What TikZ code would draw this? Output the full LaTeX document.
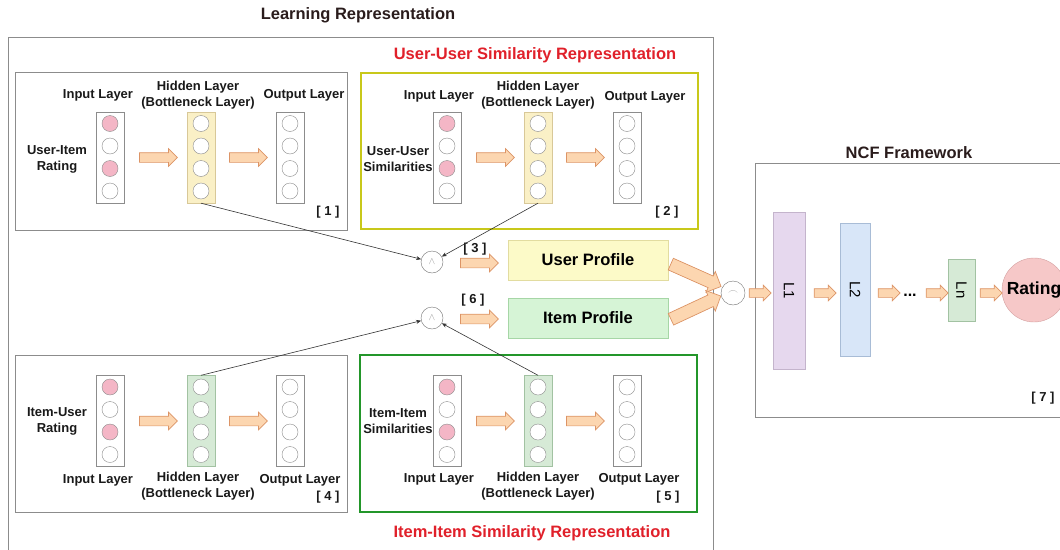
\documentclass[tikz,border=0pt]{standalone}
\usepackage{fontspec}
\setmainfont{Liberation Sans}
\usetikzlibrary{shapes.arrows,arrows.meta}

\definecolor{boxgray}{HTML}{8C8C8C}
\definecolor{olivebox}{HTML}{C8C81A}
\definecolor{greenbox}{HTML}{23962A}
\definecolor{redtitle}{HTML}{E0202A}
\definecolor{darktitle}{HTML}{2A1C1C}
\definecolor{pinkn}{HTML}{F4B6C6}
\definecolor{hidyel}{HTML}{FAF0C6}
\definecolor{hidyeldraw}{HTML}{D8C898}
\definecolor{hidgrn}{HTML}{D6EAD6}
\definecolor{hidgrndraw}{HTML}{A2C2A2}
\definecolor{arrowfill}{HTML}{FCD6B0}
\definecolor{arrowline}{HTML}{DC9466}
\definecolor{userfill}{HTML}{FCFAC8}
\definecolor{userdraw}{HTML}{E2DCA0}
\definecolor{itemfill}{HTML}{D6F4D6}
\definecolor{itemdraw}{HTML}{A6D6A6}
\definecolor{lonefill}{HTML}{E6D8EE}
\definecolor{lonedraw}{HTML}{C4B4CC}
\definecolor{ltwofill}{HTML}{D8E6F8}
\definecolor{ltwodraw}{HTML}{A8BCD6}
\definecolor{ratefill}{HTML}{F6C8C8}
\definecolor{ratedraw}{HTML}{D4A0A0}

\tikzset{
  txt/.style={font=\bfseries\fontsize{13}{16}\selectfont, text=black!90, align=center, inner sep=0pt},
  head/.style={font=\bfseries\fontsize{16.5}{20}\selectfont, inner sep=0pt},
  panel/.style={draw=boxgray, line width=1pt},
  layercol/.style={draw=boxgray, fill=white, minimum width=28pt, minimum height=91pt, inner sep=0pt},
  neuron/.style={circle, draw=black!45, fill=white, minimum size=16pt, inner sep=0pt},
  fatarrow/.style={single arrow, draw=arrowline, line width=0.7pt, fill=arrowfill, minimum height=38pt, minimum width=17pt, single arrow head extend=4pt, inner sep=4.5pt},
  bigarrow/.style={fatarrow, minimum height=55pt, minimum width=22pt, single arrow head extend=5pt, inner sep=6pt},
  ncfarrow/.style={fatarrow, minimum height=22pt, minimum width=15pt, single arrow head extend=3.5pt, inner sep=4pt},
  catnode/.style={circle, draw=black!55, fill=white, minimum size=22pt, inner sep=0pt, text=black!40},
  ncflayer/.style={draw=black!30, minimum width=30pt, inner sep=0pt, font=\fontsize{15}{16}\selectfont},
  conn/.style={draw=black!80, line width=0.6pt, -{Stealth[length=5pt,width=4pt]}},
}

\begin{document}
\begin{tikzpicture}[x=1pt, y=-1pt]
\path[use as bounding box, clip] (0,0) rectangle (1060,549);

\node[head, text=darktitle] (lrTitle) at (358,15) {Learning Representation};
\node[head, text=redtitle] (uuTitle) at (535,55) {User-User Similarity Representation};
\node[head, text=redtitle] (iiTitle) at (532,533) {Item-Item Similarity Representation};
\node[head, text=darktitle] (ncfTitle) at (909,153) {NCF Framework};

\draw[panel] (8,37) rectangle (713,570);
\draw[panel] (15,72) rectangle (347,230);
\draw[draw=olivebox, line width=2.5pt] (361,73) rectangle (698,229);
\draw[panel] (15,355) rectangle (347,512);
\draw[draw=greenbox, line width=2.5pt] (360,355) rectangle (697,512);
\draw[panel] (755,163) rectangle (1075,417);

\foreach \p/\xa/\xb/\xc/\yc/\hf/\hd in {ui/110/201/290/157.5/hidyel/hidyeldraw, uu/447/538/627/157.5/hidyel/hidyeldraw, iu/110/201/290/421/hidgrn/hidgrndraw, ii/447/538/627/421/hidgrn/hidgrndraw}{
  \node[layercol] (\p In) at (\xa,\yc) {};
  \node[layercol, fill=\hf, draw=\hd] (\p Hid) at (\xb,\yc) {};
  \node[layercol] (\p Out) at (\xc,\yc) {};
  \foreach \k/\nf in {1/pinkn,2/white,3/pinkn,4/white}{
    \node[neuron, fill=\nf] (\p In\k) at (\xa,{\yc-34+22.5*(\k-1)}) {};
    \node[neuron] (\p Hid\k) at (\xb,{\yc-34+22.5*(\k-1)}) {};
    \node[neuron] (\p Out\k) at (\xc,{\yc-34+22.5*(\k-1)}) {};
  }
  \node[fatarrow] (\p ArA) at ({\xa+46},\yc) {};
  \node[fatarrow] (\p ArB) at ({\xb+45},\yc) {};
}

% layer captions
\node[txt] (uiInLbl) at (98,95) {Input Layer};
\node[txt] (uiHidLbl) at (198,95) {Hidden Layer\\(Bottleneck Layer)};
\node[txt] (uiOutLbl) at (304,95) {Output Layer};
\node[txt] (uuInLbl) at (439,96) {Input Layer};
\node[txt] (uuHidLbl) at (538,95) {Hidden Layer\\(Bottleneck Layer)};
\node[txt] (uuOutLbl) at (645,97) {Output Layer};
\node[txt] (iuInLbl) at (98,480) {Input Layer};
\node[txt] (iuHidLbl) at (198,486) {Hidden Layer\\(Bottleneck Layer)};
\node[txt] (iuOutLbl) at (300,480) {Output Layer};
\node[txt] (iiInLbl) at (439,479) {Input Layer};
\node[txt] (iiHidLbl) at (538,486) {Hidden Layer\\(Bottleneck Layer)};
\node[txt] (iiOutLbl) at (639,479) {Output Layer};

\node[txt] (uiSrc) at (57,159) {User-Item\\Rating};
\node[txt] (uuSrc) at (398,159) {User-User\\Similarities};
\node[txt] (iuSrc) at (57,421) {Item-User\\Rating};
\node[txt] (iiSrc) at (398,421) {Item-Item\\Similarities};

\node[txt] (tag1) at (328,212) {[ 1 ]};
\node[txt] (tag2) at (667,212) {[ 2 ]};
\node[txt] (tag3) at (475,249) {[ 3 ]};
\node[txt] (tag4) at (328,497) {[ 4 ]};
\node[txt] (tag5) at (668,497) {[ 5 ]};
\node[txt] (tag6) at (473,300) {[ 6 ]};
\node[txt] (tag7) at (1043,398) {[ 7 ]};

% profiles
\node[catnode] (cat1) at (432,262) {$\wedge$};
\node[catnode] (cat2) at (432,318) {$\wedge$};
\draw[conn] (uiHid.south) -- (cat1);
\draw[conn] (uuHid.south) -- (cat1);
\draw[conn] (iuHid.north) -- (cat2);
\draw[conn] (iiHid.north) -- (cat2);
\node[fatarrow] (upIn) at (477,263) {};
\node[fatarrow] (ipIn) at (477,319) {};
\node[draw=userdraw, fill=userfill, minimum width=160pt, minimum height=40pt, font=\bfseries\fontsize{16.5}{20}\selectfont] (userProf) at (588,260) {User Profile};
\node[draw=itemdraw, fill=itemfill, minimum width=160pt, minimum height=40pt, font=\bfseries\fontsize{16.5}{20}\selectfont] (itemProf) at (588,318) {Item Profile};
\node[bigarrow, rotate=-24] (upOut) at (693,274) {};
\node[bigarrow, rotate=25] (ipOut) at (693,309) {};

% NCF
\node[catnode, minimum size=24pt] (cat3) at (733,293) {$\frown$};
\node[ncfarrow] (ncfIn) at (758,293) {};
\node[ncflayer, fill=lonefill, draw=lonedraw, minimum width=32pt, minimum height=157pt] (L1) at (789,290.5) {\rotatebox{-90}{L1}};
\node[ncflayer, fill=ltwofill, draw=ltwodraw, minimum height=133pt] (L2) at (855,289.5) {\rotatebox{-90}{L2}};
\node[ncflayer, fill=hidgrn, draw=hidgrndraw, minimum width=27pt, minimum height=62pt] (Ln) at (961.5,290) {\rotatebox{-90}{Ln}};
\node[circle, draw=ratedraw, fill=ratefill, inner sep=0pt, minimum size=64pt, font=\bfseries\fontsize{17.5}{20}\selectfont] (rating) at (1034,290) {Rating};
\node[ncfarrow] (a12) at (823,293) {};
\node[ncfarrow] (a2d) at (887,293) {};
\node[font=\bfseries\fontsize{16}{20}\selectfont, inner sep=0pt] (dots) at (910,295) {...};
\node[ncfarrow] (adn) at (935,293) {};
\node[ncfarrow] (anr) at (989,293) {};
\end{tikzpicture}
\end{document}
